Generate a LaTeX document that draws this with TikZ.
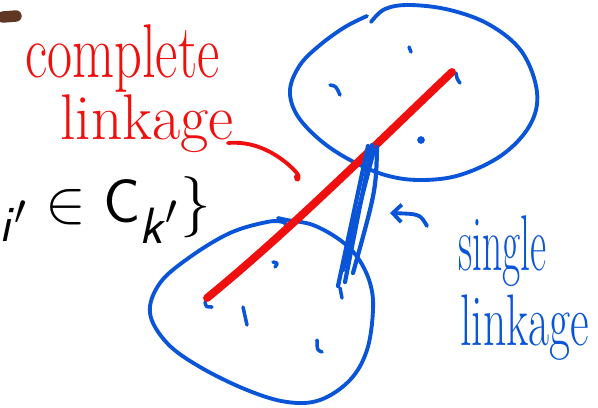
\documentclass[tikz,border=0pt]{standalone}
\usepackage{amsmath}
\usetikzlibrary{arrows.meta,positioning}
\definecolor{inkblue}{RGB}{10,85,215}
\definecolor{inkred}{RGB}{240,15,15}
\definecolor{inkbrown}{RGB}{95,55,35}
\newcommand\sfit[1]{\textsf{\textit{#1}}}
\newcommand\tallword[3]{\scalebox{1}[#2]{\fontsize{#1}{#1}\selectfont #3}}

\begin{document}
\begin{tikzpicture}[x=0.02cm,y=-0.02cm,>={Straight Barb[length=5pt]},line cap=round,line join=round]
  \tikzstyle{ink}=[line width=2.2pt]
  \tikzstyle{blueink}=[ink,draw=inkblue]
  \tikzstyle{redink}=[ink,draw=inkred]
  \tikzstyle{pt}=[line width=2pt,draw=inkblue]
  \tikzstyle{word}=[inner sep=0pt,anchor=base west]
  \useasboundingbox (0,0) rectangle (598,407);
  \clip (0,0) rectangle (598,407);

  % slide remnants
  \draw[line width=6.5pt,inkbrown] (3,17) -- (16,16);
  \node[inner sep=0pt,anchor=base east] (setend) at (211,222)
    {\scalebox{1.4}{\Huge $\vphantom{x}_{\sfit{i}'} \in \mathsf{C}_{\sfit{k}'}\}$}};

  % labels
  \node[word,text=inkred] (cmpl) at (25,77) {\tallword{31}{1.4}{complete}};
  \node[word,text=inkred] (linkred) at (60,139) {\tallword{35}{1.05}{linkage}};
  \node[word,text=inkblue] (sgl) at (458,270) {\tallword{22.5}{2}{single}};
  \node[word,text=inkblue] (linkblue) at (460,345) {\tallword{26}{1.6}{linkage}};

  % clusters
  \draw[blueink] plot[smooth,tension=0.6] coordinates {(371,22) (385,9) (410,5) (450,10) (490,25)
    (522,52) (537,92) (530,125) (502,155) (460,175) (420,180) (385,175) (350,160) (320,140)
    (297,115) (290,90) (300,65) (320,45) (345,27) (367,16)};
  \draw[blueink] plot[smooth,tension=0.6] coordinates {(278,218) (287,220) (313,225) (340,240)
    (358,258) (370,283) (373,310) (367,350) (350,380) (320,400) (287,402) (247,390) (200,367)
    (167,343) (150,313) (160,283) (190,257) (230,233) (267,222) (283,222) (286,226)};

  % points
  \draw[pt] (409,47) -- (411,52);
  \draw[pt] (330,85) .. controls (336,86) .. (340,95);
  \draw[pt] (456,73) .. controls (457,79) .. (460,83);
  \fill[inkblue] (421,140) circle (2.2pt);
  \draw[pt] (273,262) .. controls (278,263) .. (275,267);
  \draw[pt] (205,302) .. controls (206,307) .. (212,307);
  \draw[pt] (243,307) -- (247,325);
  \draw[pt] (317,340) .. controls (317,350) .. (322,352);
  \draw[pt] (340,288) -- (342,298);

  % complete linkage
  \draw[line width=4.5pt,inkred] (207,298) .. controls (290,230) and (370,150) .. (452,72);
  \coordinate (redstart) at (228,143);
  \coordinate (redend) at (296,176);
  \draw[redink] (redstart) .. controls (260,140) and (285,160) .. (296,172)
    .. controls (302,178) and (296,184) .. (redend);

  % single linkage
  \draw[line width=2.4pt,inkblue] (368,146) -- (338,286);
  \draw[line width=2.4pt,inkblue] (372,145) -- (345,282);
  \draw[line width=2.4pt,inkblue] (374,150) -- (343,270);
  \draw[line width=2.4pt,inkblue] (377,147) .. controls (376,190) .. (353,273);
  \coordinate (arrtail) at (427,226);
  \coordinate (arrtip) at (390,213);
  \draw[blueink,->] (arrtail) .. controls (420,214) .. (arrtip);
\end{tikzpicture}
\end{document}
